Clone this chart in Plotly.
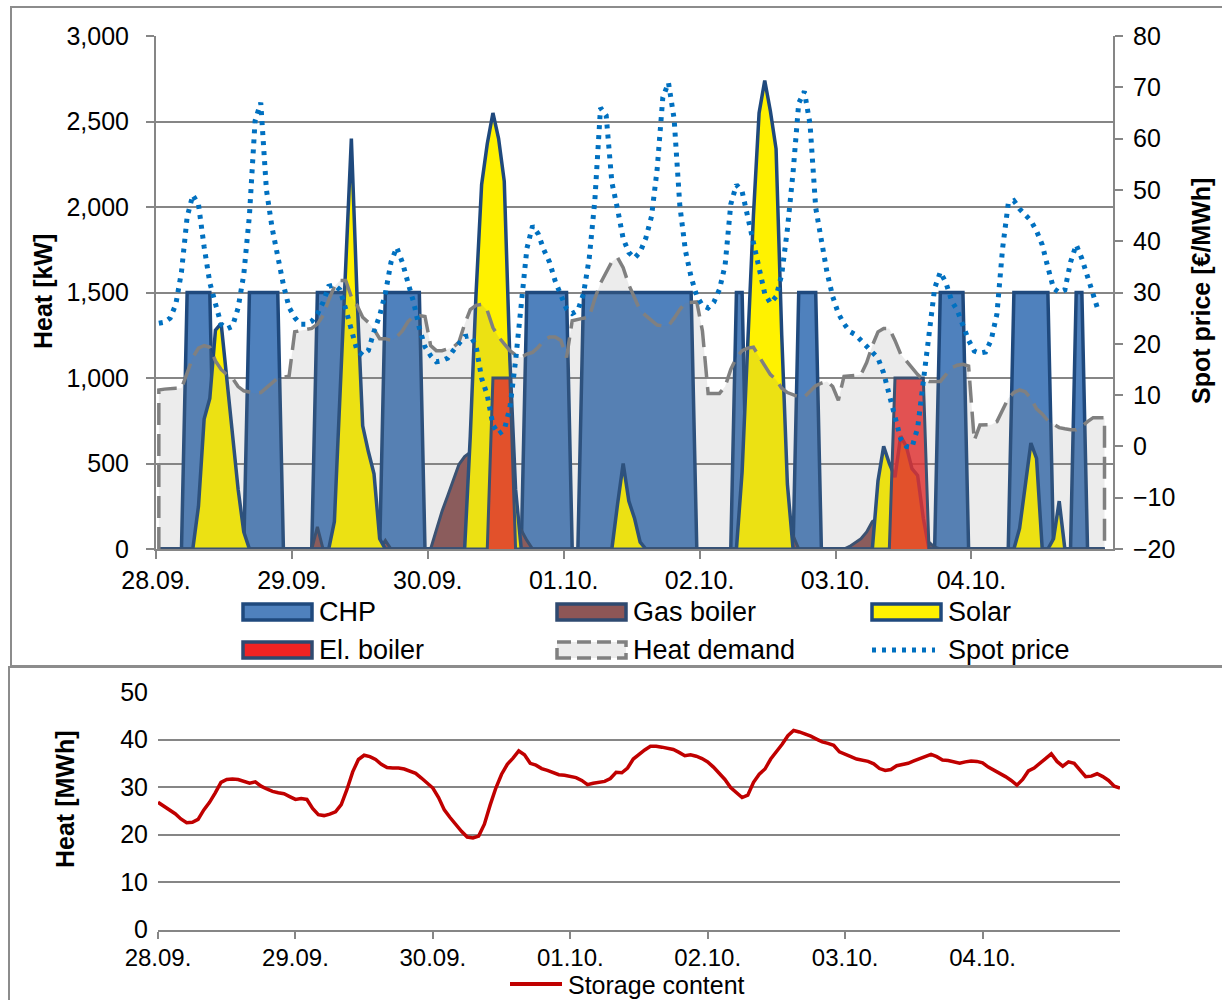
import plotly.graph_objects as go

# ---------------- data (hourly, 168 h starting 28.09. 00:00) ----------------
date_labels = ["28.09.", "29.09.", "30.09.", "01.10.", "02.10.", "03.10.", "04.10."]
tick_hours = [0, 24, 48, 72, 96, 120, 144]

chp_kw = [
    0, 0, 0, 0, 0, 1500, 1500, 1500, 1500, 1500, 0, 0, 0, 0, 0, 0, 1500, 1500, 1500, 1500, 1500, 1500, 0, 0,
    0, 0, 0, 0, 1500, 1500, 1500, 1500, 1500, 1500, 0, 0, 0, 0, 0, 0, 1500, 1500, 1500, 1500, 1500, 1500, 1500, 0,
    0, 0, 0, 0, 0, 0, 0, 0, 0, 0, 0, 0, 0, 0, 0, 0, 0, 1500, 1500, 1500, 1500, 1500, 1500, 1500,
    1500, 0, 0, 1500, 1500, 1500, 1500, 1500, 1500, 1500, 1500, 1500, 1500, 1500, 1500, 1500, 1500, 1500, 1500, 1500, 1500, 1500, 1500, 0,
    0, 0, 0, 0, 0, 0, 1500, 1500, 0, 0, 0, 0, 0, 0, 0, 0, 0, 1500, 1500, 1500, 1500, 0, 0, 0,
    0, 0, 0, 0, 0, 0, 0, 0, 0, 0, 0, 0, 0, 0, 0, 0, 0, 0, 1500, 1500, 1500, 1500, 1500, 0,
    0, 0, 0, 0, 0, 0, 0, 1500, 1500, 1500, 1500, 1500, 1500, 1500, 0, 0, 0, 0, 1500, 1500, 0, 0, 0, 0,
]

gas_boiler_kw = [
    0, 0, 0, 0, 0, 0, 0, 0, 0, 0, 0, 0, 0, 0, 0, 0, 0, 0, 0, 0, 0, 0, 0, 0,
    0, 0, 0, 0, 130, 0, 0, 0, 0, 0, 0, 0, 0, 0, 0, 0, 50, 0, 0, 0, 0, 0, 0, 0,
    0, 110, 220, 310, 400, 495, 540, 565, 480, 400, 320, 260, 220, 190, 170, 150, 110, 50, 0, 0, 0, 0, 0, 0,
    0, 0, 0, 0, 0, 0, 0, 0, 0, 0, 0, 0, 0, 0, 0, 0, 0, 0, 0, 0, 0, 0, 0, 0,
    0, 0, 0, 0, 0, 0, 0, 0, 0, 0, 0, 0, 0, 0, 0, 60, 80, 0, 0, 0, 0, 0, 0, 0,
    0, 0, 15, 40, 60, 100, 160, 180, 170, 150, 130, 120, 110, 100, 80, 60, 40, 10, 0, 0, 0, 0, 0, 0,
    0, 0, 0, 0, 0, 0, 0, 0, 0, 0, 0, 0, 0, 0, 0, 0, 0, 0, 0, 0, 0, 0, 0, 0,
]

solar_kw = [
    0, 0, 0, 0, 0, 0, 0, 250, 760, 880, 1280, 1320, 1000, 680, 350, 100, 0, 0, 0, 0, 0, 0, 0, 0,
    0, 0, 0, 0, 0, 0, 0, 160, 900, 1650, 2400, 1480, 720, 570, 440, 60, 0, 0, 0, 0, 0, 0, 0, 0,
    0, 0, 0, 0, 0, 0, 0, 660, 1480, 2130, 2370, 2550, 2400, 2150, 1100, 350, 0, 0, 0, 0, 0, 0, 0, 0,
    0, 0, 0, 0, 0, 0, 0, 0, 0, 260, 500, 280, 180, 40, 0, 0, 0, 0, 0, 0, 0, 0, 0, 0,
    0, 0, 0, 0, 0, 0, 0, 450, 1200, 1950, 2550, 2740, 2560, 2340, 1250, 380, 0, 0, 0, 0, 0, 0, 0, 0,
    0, 0, 0, 0, 0, 0, 0, 400, 600, 500, 420, 660, 600, 470, 430, 180, 0, 0, 0, 0, 0, 0, 0, 0,
    0, 0, 0, 0, 0, 0, 0, 0, 120, 380, 620, 530, 0, 0, 60, 280, 0, 0, 0, 0, 0, 0, 0, 0,
]

el_boiler_kw = [
    0, 0, 0, 0, 0, 0, 0, 0, 0, 0, 0, 0, 0, 0, 0, 0, 0, 0, 0, 0, 0, 0, 0, 0,
    0, 0, 0, 0, 0, 0, 0, 0, 0, 0, 0, 0, 0, 0, 0, 0, 0, 0, 0, 0, 0, 0, 0, 0,
    0, 0, 0, 0, 0, 0, 0, 0, 0, 0, 0, 1000, 1000, 1000, 1000, 0, 0, 0, 0, 0, 0, 0, 0, 0,
    0, 0, 0, 0, 0, 0, 0, 0, 0, 0, 0, 0, 0, 0, 0, 0, 0, 0, 0, 0, 0, 0, 0, 0,
    0, 0, 0, 0, 0, 0, 0, 0, 0, 0, 0, 0, 0, 0, 0, 0, 0, 0, 0, 0, 0, 0, 0, 0,
    0, 0, 0, 0, 0, 0, 0, 0, 0, 0, 1000, 1000, 1000, 1000, 1000, 1000, 0, 0, 0, 0, 0, 0, 0, 0,
    0, 0, 0, 0, 0, 0, 0, 0, 0, 0, 0, 0, 0, 0, 0, 0, 0, 0, 0, 0, 0, 0, 0, 0,
]

heat_demand_kw = [
    930, 935, 940, 940, 940, 1030, 1120, 1175, 1190, 1180, 1100, 1050,
    1020, 1000, 950, 925, 917, 910, 915, 945, 975, 1000, 1005, 1010,
    1270, 1275, 1280, 1290, 1315, 1365, 1455, 1535, 1570, 1570, 1475, 1425,
    1355, 1325, 1285, 1230, 1230, 1220, 1240, 1275, 1330, 1360, 1365, 1360,
    1190, 1160, 1160, 1170, 1180, 1210, 1315, 1400, 1425, 1430, 1395, 1295,
    1240, 1200, 1160, 1135, 1120, 1140, 1150, 1180, 1220, 1240, 1240, 1220,
    1120, 1335, 1345, 1350, 1355, 1465, 1555, 1615, 1680, 1705, 1645, 1545,
    1475, 1395, 1365, 1335, 1310, 1305, 1305, 1350, 1400, 1440, 1445, 1445,
    1275, 910, 910, 910, 950, 1050, 1120, 1160, 1175, 1180, 1125, 1070,
    1020, 990, 940, 915, 900, 890, 890, 920, 955, 970, 980, 950,
    870, 1010, 1010, 1015, 1020, 1090, 1190, 1270, 1290, 1290, 1220, 1140,
    1100, 1060, 1020, 990, 980, 980, 980, 1020, 1060, 1075, 1080, 1070,
    635, 725, 727, 727, 745, 810, 880, 915, 930, 920, 880, 820,
    790, 750, 727, 710, 703, 697, 697, 717, 745, 768, 768, 768,
]

spot_price_eur = [
    24.0, 24.2, 25.0, 27.7, 34.0, 44.7, 49.0, 47.2, 38.9, 31.9, 27.8, 23.8,
    22.9, 23.4, 27.0, 33.5, 45.0, 63.5, 67.0, 50.0, 42.6, 36.6, 31.5, 27.1,
    25.1, 23.8, 23.8, 24.4, 25.8, 28.1, 31.2, 31.5, 30.5, 26.8, 23.1, 18.7,
    17.8, 18.7, 22.4, 25.5, 29.8, 35.9, 38.8, 35.9, 31.9, 28.1, 23.1, 19.4,
    17.7, 16.5, 16.7, 17.2, 18.7, 20.1, 21.4, 21.6, 19.7, 13.3, 10.0, 4.2,
    2.4, 3.2, 7.6, 16.7, 27.1, 38.6, 43.0, 41.4, 38.3, 35.9, 32.2, 29.5,
    26.8, 25.9, 26.5, 29.8, 36.6, 48.0, 66.0, 64.5, 51.5, 46.3, 40.5, 37.8,
    36.7, 37.9, 40.6, 44.8, 54.0, 68.0, 70.9, 63.8, 47.0, 38.1, 33.0, 29.3,
    27.5, 27.0, 28.1, 30.6, 35.3, 47.2, 51.0, 49.7, 44.6, 39.3, 34.2, 29.8,
    27.9, 29.2, 33.5, 42.3, 53.4, 66.9, 69.2, 62.8, 46.5, 39.9, 33.9, 29.2,
    25.9, 23.9, 22.4, 21.8, 20.7, 19.7, 18.5, 17.2, 14.3, 10.0, 5.6, 1.5,
    0.0, -0.2, 3.6, 12.0, 21.7, 30.8, 34.0, 31.9, 28.4, 26.5, 23.4, 20.7,
    18.6, 18.2, 18.4, 20.8, 25.8, 38.6, 47.3, 47.9, 46.3, 45.3, 44.0, 42.0,
    39.3, 34.9, 30.8, 30.0, 30.5, 35.9, 39.3, 36.6, 33.2, 29.7, 26.1, None,
]

storage_mwh = [
    26.8, 26.0, 25.2, 24.4, 23.3, 22.5, 22.6, 23.2, 25.2, 26.8, 28.8, 31.0,
    31.6, 31.7, 31.6, 31.2, 30.8, 31.1, 30.2, 29.6, 29.1, 28.8, 28.6, 28.0,
    27.4, 27.6, 27.4, 25.5, 24.2, 24.0, 24.3, 24.8, 26.3, 29.5, 33.2, 35.8,
    36.7, 36.4, 35.8, 34.8, 34.1, 34.0, 34.0, 33.8, 33.4, 32.9, 31.9, 30.9,
    29.8, 27.8, 25.2, 23.6, 22.1, 20.7, 19.5, 19.3, 19.7, 22.2, 26.2, 29.8,
    32.7, 34.8, 36.1, 37.6, 36.8, 35.0, 34.6, 33.9, 33.5, 33.1, 32.6, 32.5,
    32.3, 32.0, 31.4, 30.5, 30.8, 31.0, 31.2, 31.8, 33.1, 33.0, 34.0, 35.9,
    36.9, 37.8, 38.6, 38.6, 38.4, 38.2, 37.9, 37.3, 36.6, 36.8, 36.5, 36.0,
    35.3, 34.2, 33.0, 31.6, 29.9, 28.8, 27.8, 28.3, 31.0, 32.7, 33.8, 35.9,
    37.4, 39.0, 40.8, 41.9, 41.6, 41.2, 40.7, 40.1, 39.5, 39.2, 38.8, 37.4,
    36.8, 36.4, 35.9, 35.6, 35.4, 34.9, 33.9, 33.5, 33.7, 34.5, 34.7, 35.0,
    35.5, 36.0, 36.5, 36.9, 36.4, 35.7, 35.6, 35.3, 35.0, 35.3, 35.5, 35.4,
    35.1, 34.2, 33.6, 33.0, 32.2, 31.4, 30.4, 31.6, 33.4, 34.0, 34.9, 36.0,
    37.0, 35.4, 34.4, 35.3, 35.0, 33.5, 32.2, 32.3, 32.8, 32.2, 31.4, 30.2,
    29.8,
]

# time axes (hours); top values are hourly values plotted at the middle of the hour
hours_mid = [i + 0.5 for i in range(len(chp_kw))]
hours_storage = list(range(len(storage_mwh)))

# ---------------- figure ----------------
W, H = 1222, 1000
def fx(x):
    return x / W
def fy(y):
    return 1 - y / H

FONT = "Liberation Sans, Arial, sans-serif"
GRID = "#868686"
DARKBLUE = "#1f497d"

fig = go.Figure()

def area(y, fill, line_color, width, name):
    return go.Scatter(x=hours_mid, y=y, mode="lines", fill="tozeroy", fillcolor=fill,
                      line=dict(color=line_color, width=width), name=name,
                      xaxis="x", yaxis="y", showlegend=False, hoverinfo="skip")

fig.add_trace(area(chp_kw, "#4f81bd", DARKBLUE, 3.5, "CHP"))
fig.add_trace(area(gas_boiler_kw, "#8e5656", "#2f4a70", 3, "Gas boiler"))
fig.add_trace(area(solar_kw, "#fff200", DARKBLUE, 3.5, "Solar"))
fig.add_trace(area(el_boiler_kw, "rgba(242,35,35,0.82)", "#2f4a70", 3, "El. boiler"))

# heat demand area, closed down to zero at both ends like the original
hd_x = [hours_mid[0]] + hours_mid + [hours_mid[-1]]
hd_y = [0] + heat_demand_kw + [0]
fig.add_trace(go.Scatter(x=hd_x, y=hd_y, mode="lines", fill="tozeroy",
                         fillcolor="rgba(128,128,128,0.15)",
                         line=dict(color="#808080", width=3.5, dash="22px,9px"),
                         name="Heat demand", xaxis="x", yaxis="y", showlegend=False))

fig.add_trace(go.Scatter(x=hours_mid, y=spot_price_eur, mode="lines",
                         line=dict(color="#0070c0", width=5, dash="4px,6px"),
                         name="Spot price", xaxis="x", yaxis="y2", showlegend=False))

fig.add_trace(go.Scatter(x=hours_storage, y=storage_mwh, mode="lines",
                         line=dict(color="#c00000", width=3.5),
                         name="Storage content", xaxis="x2", yaxis="y3", showlegend=False))

tickfont = dict(family=FONT, size=25, color="black")
tickfont_small = dict(family=FONT, size=24, color="black")

fig.update_layout(
    template="none",
    width=W, height=H, margin=dict(l=0, r=0, t=0, b=0, pad=0, autoexpand=False),
    paper_bgcolor="white", plot_bgcolor="rgba(0,0,0,0)",
    showlegend=False, font=dict(family=FONT, size=25, color="black"),
    xaxis=dict(domain=[fx(156), fx(1113)], range=[0, 169], tickvals=tick_hours, ticktext=date_labels,
               showgrid=False, zeroline=False, showline=True, linecolor=GRID, linewidth=2,
               ticks="outside", ticklen=8, tickwidth=2, tickcolor=GRID, tickfont=tickfont, anchor="y",
               automargin=False),
    yaxis=dict(domain=[fy(549), fy(36)], range=[0, 3000], dtick=500, tickformat=",d",
               showgrid=True, gridcolor=GRID, gridwidth=2, zeroline=False,
               showline=True, linecolor=GRID, linewidth=2, ticks="outside", ticklen=8, tickwidth=2,
               tickcolor=GRID, tickfont=tickfont, anchor="x", ticklabelstandoff=12, automargin=False),
    yaxis2=dict(overlaying="y", side="right", anchor="x", range=[-20, 80], dtick=10,
                showgrid=False, zeroline=False, showline=True, linecolor=GRID, linewidth=2,
                ticks="outside", ticklen=8, tickwidth=2, tickcolor=GRID, tickfont=tickfont,
                ticklabelstandoff=5, automargin=False),
    xaxis2=dict(domain=[fx(158), fx(1120)], range=[0, 168], tickvals=tick_hours, ticktext=date_labels,
                showgrid=False, zeroline=False, showline=True, linecolor=GRID, linewidth=2,
                ticks="outside", ticklen=7, tickwidth=2, tickcolor=GRID, tickfont=tickfont_small,
                anchor="y3", automargin=False, ticklabelstandoff=-2),
    yaxis3=dict(domain=[fy(929.7), fy(692)], range=[0, 50], dtick=10, showgrid=True, gridcolor=GRID,
                gridwidth=2, zeroline=False, showline=False, ticks="", tickfont=tickfont,
                anchor="x2", ticklabelstandoff=9, automargin=False),
)

shapes = []
# chart frames
shapes.append(dict(type="rect", xref="paper", yref="paper", x0=fx(11), x1=1.02, y0=fy(666), y1=fy(7),
                   line=dict(color="#8c8c8c", width=2), fillcolor="rgba(0,0,0,0)", layer="below"))
shapes.append(dict(type="rect", xref="paper", yref="paper", x0=fx(9), x1=1.02, y0=-0.02, y1=fy(667),
                   line=dict(color="#8c8c8c", width=2), fillcolor="rgba(0,0,0,0)", layer="below"))

annotations = []
legend_font = dict(family=FONT, size=27, color="black")

# legend of the top chart (3 columns x 2 rows)
legend_boxes = [
    ("CHP", 243, 612, "#4f81bd", DARKBLUE, "solid"),
    ("Gas boiler", 557, 612, "#8e5656", "#2f4a70", "solid"),
    ("Solar", 872, 612, "#fff200", DARKBLUE, "solid"),
    ("El. boiler", 243, 650, "#f22323", "#2f4a70", "solid"),
    ("Heat demand", 557, 650, "#ececec", "#808080", "14px,6px"),
]
for label, x0, yc, fc, lc, dash in legend_boxes:
    shapes.append(dict(type="rect", xref="paper", yref="paper", x0=fx(x0), x1=fx(x0 + 69),
                       y0=fy(yc + 8), y1=fy(yc - 8), fillcolor=fc,
                       line=dict(color=lc, width=3.5, dash=dash)))
    annotations.append(dict(x=fx(x0 + 74), y=fy(yc), xref="paper", yref="paper", text=label,
                            showarrow=False, xanchor="left", yanchor="middle", font=legend_font))
shapes.append(dict(type="line", xref="paper", yref="paper", x0=fx(872), x1=fx(935), y0=fy(650), y1=fy(650),
                   line=dict(color="#0070c0", width=5, dash="4px,6px")))
annotations.append(dict(x=fx(946), y=fy(650), xref="paper", yref="paper", text="Spot price",
                        showarrow=False, xanchor="left", yanchor="middle", font=legend_font))

# legend of the bottom chart
shapes.append(dict(type="line", xref="paper", yref="paper", x0=fx(510), x1=fx(562), y0=fy(984), y1=fy(984),
                   line=dict(color="#c00000", width=4)))
annotations.append(dict(x=fx(566), y=fy(985), xref="paper", yref="paper", text="Storage content",
                        showarrow=False, xanchor="left", yanchor="middle",
                        font=dict(family=FONT, size=25, color="black")))

# axis titles
title_font = dict(family=FONT, size=25, color="black", weight="bold")
annotations.append(dict(x=fx(43), y=fy(292), xref="paper", yref="paper", text="Heat [kW]", textangle=-90,
                        showarrow=False, xanchor="center", yanchor="middle", font=title_font))
annotations.append(dict(x=fx(1201), y=fy(291), xref="paper", yref="paper", text="Spot price [€/MWh]",
                        textangle=-90, showarrow=False, xanchor="center", yanchor="middle", font=title_font))
annotations.append(dict(x=fx(65), y=fy(800), xref="paper", yref="paper", text="Heat [MWh]", textangle=-90,
                        showarrow=False, xanchor="center", yanchor="middle", font=title_font))

fig.update_layout(shapes=shapes, annotations=annotations)

fig.write_html("out.html", config={"displayModeBar": False},
               post_script="document.body.style.margin='0px';document.body.style.overflow='hidden';")
